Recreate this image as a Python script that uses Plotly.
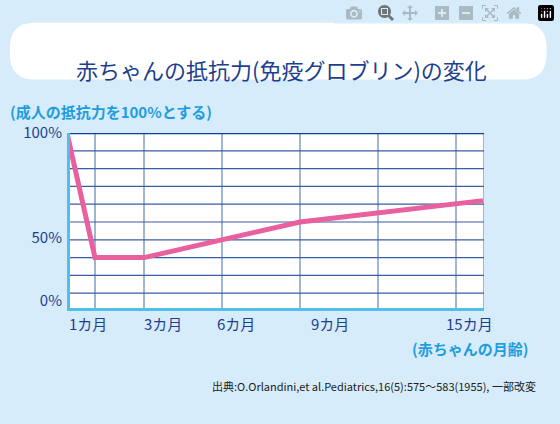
import plotly.graph_objects as go

# chart units: 0 = 1カ月 axis, grid columns as drawn in the source
px_x = [0, 28, 77, 233, 416]
values = [100, 30, 30, 50, 62]
grid_x = [28, 77, 155, 233, 311, 389, 417]
grid_y = [10, 20, 30, 40, 50, 60, 70, 80, 90]
ytick_vals = [100, 41, 6]
ytick_text = ["100%", "50%", "0%"]
xlab_pos = [0, 75, 169, 263, 428]
xlab_text = ["1カ月", "3カ月", "6カ月", "9カ月", "15カ月"]

navy = "#1d3f8f"
fig = go.Figure()
fig.add_trace(go.Scatter(x=px_x, y=values, mode="lines",
                         line=dict(color="#e8609e", width=5), hoverinfo="skip"))

# rounded white title box, in pixel-ish paper terms
x0, x1, y0, y1, r = -0.137, 1.15, 1.30, 1.62, 0.06
ry = r * 417 / 178
box = (f"M {x0+r},{y0} L {x1-r},{y0} Q {x1},{y0} {x1},{y0+ry} L {x1},{y1-ry} Q {x1},{y1} {x1-r},{y1} "
       f"L {x0+r},{y1} Q {x0},{y1} {x0},{y1-ry} L {x0},{y0+ry} Q {x0},{y0} {x0+r},{y0} Z")
shapes = [dict(type="path", xref="paper", yref="paper", path=box, fillcolor="white", line_width=0, layer="below")]
for gx in grid_x:
    shapes.append(dict(type="line", x0=gx, x1=gx, y0=0, y1=100, line=dict(color="#7f9cc6", width=1.5), layer="below"))
for gy in grid_y:
    shapes.append(dict(type="line", x0=0, x1=417, y0=gy, y1=gy, line=dict(color="#3a5da3", width=1.2), layer="below"))
shapes.append(dict(type="line", x0=0, x1=417, y0=100, y1=100, line=dict(color="#0e3f99", width=2.5)))
shapes.append(dict(type="line", x0=0, x1=0, y0=-1, y1=100, line=dict(color="#4fc0ea", width=6)))
shapes.append(dict(type="line", x0=-3, x1=417, y0=0, y1=0, line=dict(color="#4fc0ea", width=6)))

ann = [dict(text="赤ちゃんの抵抗力(免疫グロブリン)の変化", xref="paper", yref="paper", x=0.515, y=1.46,
            showarrow=False, font=dict(size=22, color=navy)),
       dict(text="<b>(成人の抵抗力を100%とする)</b>", xref="paper", yref="paper", x=-0.142, y=1.19,
            xanchor="left", showarrow=False, font=dict(size=15, color="#1f9de0")),
       dict(text="<b>(赤ちゃんの月齢)</b>", xref="paper", yref="paper", x=1.11, y=-0.28,
            xanchor="right", showarrow=False, font=dict(size=15, color="#1f9de0")),
       dict(text="出典:O.Orlandini,et al.Pediatrics,16(5):575～583(1955), 一部改変", xref="paper", yref="paper",
            x=1.13, y=-0.48, xanchor="right", showarrow=False, font=dict(size=11, color="#222"))]
for p, t in zip(xlab_pos, xlab_text):
    ann.append(dict(text=t, x=p / 417, xref="paper", y=-0.14, yref="paper", showarrow=False,
                    font=dict(size=15, color=navy)))

fig.update_layout(
    width=560, height=424, margin=dict(l=67, r=76, t=133, b=113),
    paper_bgcolor="#d6ecfa", plot_bgcolor="white", showlegend=False,
    font=dict(family="Noto Sans CJK JP"),
    xaxis=dict(range=[0, 417], showgrid=False, zeroline=False, showticklabels=False, fixedrange=True),
    yaxis=dict(range=[0, 100], showgrid=False, zeroline=False, tickvals=ytick_vals, ticktext=ytick_text,
               tickfont=dict(size=15, color=navy), ticks="", ticklabelstandoff=4),
    shapes=shapes, annotations=ann,
)
fig.write_html("out.html", post_script="document.body.style.margin='0';")
